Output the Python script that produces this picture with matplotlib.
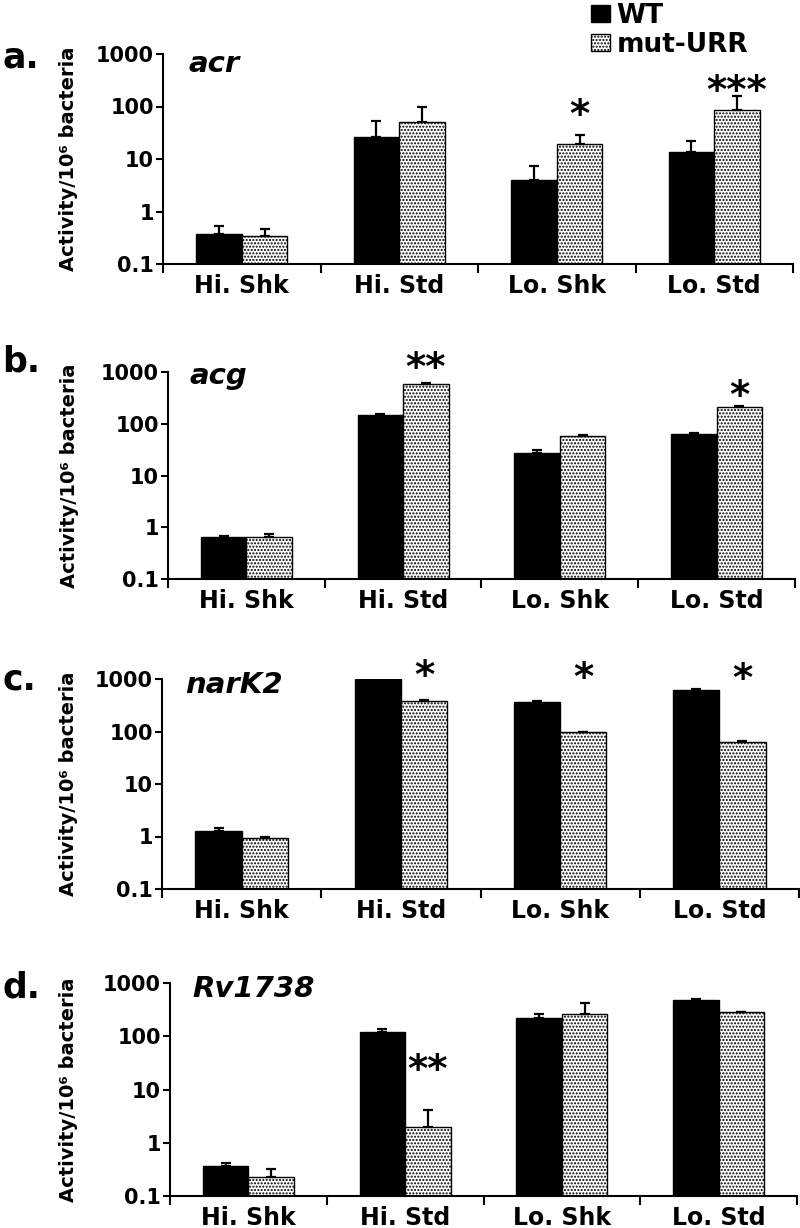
import matplotlib
matplotlib.use("Agg")
import matplotlib.pyplot as plt
from matplotlib.patches import Patch
import numpy as np

plt.rcParams['font.family'] = ['DejaVu Sans']
plt.rcParams['hatch.linewidth'] = 1.0

categories = ['Hi. Shk', 'Hi. Std', 'Lo. Shk', 'Lo. Std']
series = ['WT', 'mut-URR']

acr_wt = [0.37, 26, 4.0, 13.5]
acr_wt_err = [0.15, 26, 3.5, 8.5]
acr_mut = [0.34, 50, 19, 85]
acr_mut_err = [0.13, 50, 10, 75]

acg_wt = [0.66, 150, 27.5, 64]
acg_wt_err = [0.02, 6, 3.5, 1]
acg_mut = [0.64, 595, 57, 208]
acg_mut_err = [0.10, 25, 3, 9]

nark2_wt = [1.29, 1000, 360, 610]
nark2_wt_err = [0.16, 0, 25, 30]
nark2_mut = [0.94, 385, 98, 62]
nark2_mut_err = [0.03, 5, 2, 3]

rv1738_wt = [0.36, 120, 216, 470]
rv1738_wt_err = [0.05, 18, 46, 30]
rv1738_mut = [0.23, 2.0, 265, 280]
rv1738_mut_err = [0.09, 2.1, 150, 5]

# significance marks: (category index, mark, value at top of mark)
acr_stars = [(2, '*', 150), (3, '***', 430)]
acg_stars = [(1, '**', 2650), (3, '*', 760)]
nark2_stars = [(1, '*', 2500), (2, '*', 2350), (3, '*', 2200)]
rv1738_stars = [(1, '**', 50)]

panel_letters = ['a.', 'b.', 'c.', 'd.']
genes = ['acr', 'acg', 'narK2', 'Rv1738']

yticks = [0.1, 1, 10, 100, 1000]
ytick_labels = ['0.1', '1', '10', '100', '1000']

panels = [
    (acr_wt, acr_wt_err, acr_mut, acr_mut_err, acr_stars),
    (acg_wt, acg_wt_err, acg_mut, acg_mut_err, acg_stars),
    (nark2_wt, nark2_wt_err, nark2_mut, nark2_mut_err, nark2_stars),
    (rv1738_wt, rv1738_wt_err, rv1738_mut, rv1738_mut_err, rv1738_stars),
]

W, H = 800, 1228
fig = plt.figure(figsize=(W / 100, H / 100), dpi=100)

# axes boxes in pixels: left, right, top, bottom
boxes = [(163, 793, 54, 264), (168, 795, 372, 579), (162, 799, 679, 889), (170, 797, 983, 1196)]
letter_base = [68, 372, 690, 997]
gene_pos = [(0.041, 0.914), (0.035, 0.94), (0.036, 0.933), (0.035, 0.934)]

bw = 0.29
x = np.arange(len(categories))

for k, (wt, wte, mut, mute, stars) in enumerate(panels):
    L, R, T, B = boxes[k]
    ax = fig.add_axes([L / W, 1 - B / H, (R - L) / W, (B - T) / H])
    ax.set_yscale('log')
    ax.bar(x - bw / 2, wt, bw, color='black', edgecolor='black', linewidth=1,
           yerr=[np.zeros(len(wt)), wte], error_kw=dict(ecolor='black', elinewidth=1.6, capsize=3.6, capthick=1.6),
           zorder=2)
    ax.bar(x + bw / 2, mut, bw, color='white', edgecolor='black', linewidth=1, hatch='.....',
           yerr=[np.zeros(len(mut)), mute], error_kw=dict(ecolor='black', elinewidth=1.6, capsize=3.6, capthick=1.6),
           zorder=2)
    ax.set_ylim(0.1, 1000)
    ax.set_xlim(-0.5, len(categories) - 0.5)
    ax.yaxis.set_major_locator(matplotlib.ticker.FixedLocator(yticks))
    ax.yaxis.set_minor_locator(matplotlib.ticker.NullLocator())
    ax.set_yticklabels(ytick_labels, fontsize=15, fontweight='bold')
    ax.tick_params(axis='y', which='major', length=5, width=1.5, pad=1.5)
    ax.set_xticks(np.arange(len(categories) + 1) - 0.5)
    ax.set_xticklabels([''] * (len(categories) + 1))
    ax.set_xticks(x, minor=True)
    ax.set_xticklabels(categories, minor=True, fontsize=17, fontweight='bold')
    ax.tick_params(axis='x', which='major', length=6.5, width=1.5)
    ax.tick_params(axis='x', which='minor', length=0, pad=7)
    for s in ['top', 'right']:
        ax.spines[s].set_visible(False)
    for s in ['left', 'bottom']:
        ax.spines[s].set_linewidth(1.5)
    ax.set_ylabel('Activity/10\u2076 bacteria', fontsize=14, fontweight='bold')
    ax.yaxis.set_label_coords((69 - L) / (R - L), 0.5)
    ax.yaxis.label.set_va('center')
    ax.text(gene_pos[k][0], gene_pos[k][1], genes[k], transform=ax.transAxes,
            fontsize=21, fontweight='bold', style='italic', va='baseline', ha='left')
    for (ci, mark, yv) in stars:
        ax.text(ci + bw / 2, yv, mark, ha='center', va='top', fontsize=28,
                fontweight='bold', clip_on=False)
    fig.text(2 / W, 1 - letter_base[k] / H, panel_letters[k], fontsize=25,
             fontweight='bold', va='baseline', ha='left')

handles = [Patch(facecolor='black', edgecolor='black'),
           Patch(facecolor='white', edgecolor='black', hatch='.....')]
fig.legend(handles, series, loc='upper left', bbox_to_anchor=(588 / W, 1.0),
           frameon=False, fontsize=19, prop=dict(weight='bold', size=19),
           handlelength=0.73, handleheight=0.58, handletextpad=0.25,
           labelspacing=0.12, borderpad=0.1, borderaxespad=0)

fig.savefig('out.png', dpi=100)
